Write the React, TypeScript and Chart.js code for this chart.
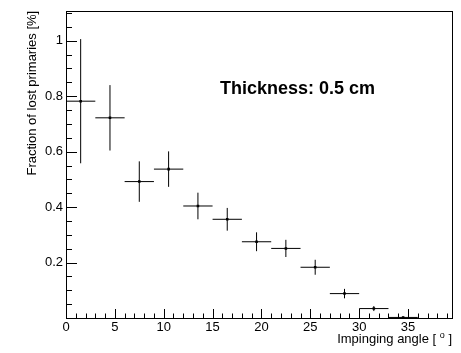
import React, { useEffect, useRef } from "react";
import { Chart, registerables } from "chart.js";

Chart.register(...registerables);

// Data (bin centres in degrees, fraction in %)
const angles = [1.5, 4.5, 7.5, 10.5, 13.5, 16.5, 19.5, 22.5, 25.5, 28.5, 31.5, 34.5];
const angleHalfWidths = [1.5, 1.5, 1.5, 1.5, 1.5, 1.5, 1.5, 1.5, 1.5, 1.5, 1.5, 1.5];
const fractions = [0.782, 0.722, 0.492, 0.537, 0.404, 0.356, 0.275, 0.251, 0.183, 0.088, 0.034, 0.002];
const fractionErrors = [0.224, 0.118, 0.073, 0.064, 0.048, 0.041, 0.034, 0.031, 0.027, 0.017, 0.009, 0.003];

const xMajorTicks = [0, 5, 10, 15, 20, 25, 30, 35];
const yMajorTicks = [0.2, 0.4, 0.6, 0.8, 1.0];

const X_MIN = 0;
const X_MAX = 39.5;
const Y_MIN = 0;
const Y_MAX = 1.108;

const FONT = "'Liberation Sans', Arial, Helvetica, sans-serif";

const rootPlugin = {
  id: "rootStyle",
  beforeDraw(chart: any) {
    const ctx = chart.ctx;
    ctx.save();
    ctx.fillStyle = "#ffffff";
    ctx.fillRect(0, 0, chart.width, chart.height);
    ctx.restore();
  },
  beforeDatasetsDraw(chart: any) {
    const ctx = chart.ctx;
    const xs = chart.scales.x;
    const ys = chart.scales.y;
    ctx.save();
    ctx.strokeStyle = "#000000";
    ctx.lineWidth = 1;
    for (let i = 0; i < angles.length; i++) {
      const x = xs.getPixelForValue(angles[i]);
      const xl = xs.getPixelForValue(angles[i] - angleHalfWidths[i]);
      const xr = xs.getPixelForValue(angles[i] + angleHalfWidths[i]);
      const y = ys.getPixelForValue(fractions[i]);
      const yt = ys.getPixelForValue(fractions[i] + fractionErrors[i]);
      const yb = ys.getPixelForValue(Math.max(Y_MIN, fractions[i] - fractionErrors[i]));
      ctx.beginPath();
      ctx.moveTo(xl, y);
      ctx.lineTo(xr, y);
      ctx.moveTo(x, yt);
      ctx.lineTo(x, yb);
      ctx.stroke();
    }
    ctx.restore();
  },
  afterDraw(chart: any) {
    const ctx = chart.ctx;
    const xs = chart.scales.x;
    const ys = chart.scales.y;
    const a = chart.chartArea;
    ctx.save();
    ctx.strokeStyle = "#000000";
    ctx.lineWidth = 1;
    // frame
    ctx.strokeRect(Math.round(a.left) + 0.5, Math.round(a.top) + 0.5, Math.round(a.right - a.left), Math.round(a.bottom - a.top));
    // x ticks (inside)
    ctx.beginPath();
    for (let v = 0; v <= 39; v += 1) {
      const px = Math.round(xs.getPixelForValue(v)) + 0.5;
      const len = xMajorTicks.includes(v) ? 9 : 4.5;
      ctx.moveTo(px, a.bottom);
      ctx.lineTo(px, a.bottom - len);
    }
    // y ticks (inside)
    for (let k = 0; k <= 22; k++) {
      const v = k * 0.05;
      if (v > Y_MAX) break;
      const py = Math.round(ys.getPixelForValue(v)) + 0.5;
      const len = k % 4 === 0 ? 11 : 6;
      ctx.moveTo(a.left, py);
      ctx.lineTo(a.left + len, py);
    }
    ctx.stroke();

    ctx.fillStyle = "#000000";
    // y title
    ctx.save();
    ctx.translate(32, a.top);
    ctx.rotate(-Math.PI / 2);
    ctx.font = `13px ${FONT}`;
    ctx.textAlign = "right";
    ctx.textBaseline = "middle";
    ctx.fillText("Fraction of lost primaries [%]", 0, 0);
    ctx.restore();

    // x title with superscript degree
    ctx.font = `13px ${FONT}`;
    ctx.textAlign = "left";
    ctx.textBaseline = "alphabetic";
    const p1 = "Impinging angle [ ";
    const p3 = " ]";
    const w1 = ctx.measureText(p1).width;
    const w3 = ctx.measureText(p3).width;
    ctx.font = `9px ${FONT}`;
    const w2 = ctx.measureText("o").width;
    const total = w1 + w2 + w3;
    const base = 343;
    let sx = a.right - total;
    ctx.font = `13px ${FONT}`;
    ctx.fillText(p1, sx, base);
    ctx.font = `9px ${FONT}`;
    ctx.fillText("o", sx + w1, base - 5);
    ctx.font = `13px ${FONT}`;
    ctx.fillText(p3, sx + w1 + w2, base);

    // annotation
    ctx.font = `bold 18px ${FONT}`;
    ctx.fillText("Thickness: 0.5 cm", 220, 94);
    ctx.restore();
  },
};

export default function App() {
  const ref = useRef<HTMLCanvasElement | null>(null);
  useEffect(() => {
    if (!ref.current) return;
    const chart = new Chart(ref.current, {
      type: "scatter",
      data: {
        datasets: [
          {
            data: angles.map((x, i) => ({ x, y: fractions[i] })),
            backgroundColor: "#000000",
            borderColor: "#000000",
            pointStyle: "rect",
            pointRadius: 1.8,
            borderWidth: 0,
          },
        ],
      },
      options: {
        animation: false,
        responsive: false,
        devicePixelRatio: 1,
        layout: { padding: { top: 6, right: 9, left: 0, bottom: 0 } },
        plugins: { legend: { display: false }, tooltip: { enabled: false } },
        scales: {
          x: {
            type: "linear",
            min: X_MIN,
            max: X_MAX,
            grid: { display: false, drawTicks: false },
            border: { display: false },
            afterFit: (s: any) => {
              s.height = 35;
            },
            afterBuildTicks: (s: any) => {
              s.ticks = xMajorTicks.map((v) => ({ value: v }));
            },
            ticks: {
              padding: 2,
              color: "#000000",
              font: { family: FONT, size: 13 },
              maxRotation: 0,
              autoSkip: false,
              callback: (v: any) => String(v),
            },
          },
          y: {
            type: "linear",
            min: Y_MIN,
            max: Y_MAX,
            grid: { display: false, drawTicks: false },
            border: { display: false },
            afterFit: (s: any) => {
              s.width = 66;
            },
            afterBuildTicks: (s: any) => {
              s.ticks = yMajorTicks.map((v) => ({ value: v }));
            },
            ticks: {
              padding: 3,
              color: "#000000",
              font: { family: FONT, size: 13 },
              autoSkip: false,
              callback: (v: any) => String(Math.round(Number(v) * 10) / 10),
            },
          },
        },
      },
      plugins: [rootPlugin],
    });
    return () => chart.destroy();
  }, []);
  return (
    <div style={{ position: "absolute", left: 0, top: 0, width: 461, height: 353, background: "#fff" }}>
      <canvas ref={ref} width={461} height={353} />
    </div>
  );
}
